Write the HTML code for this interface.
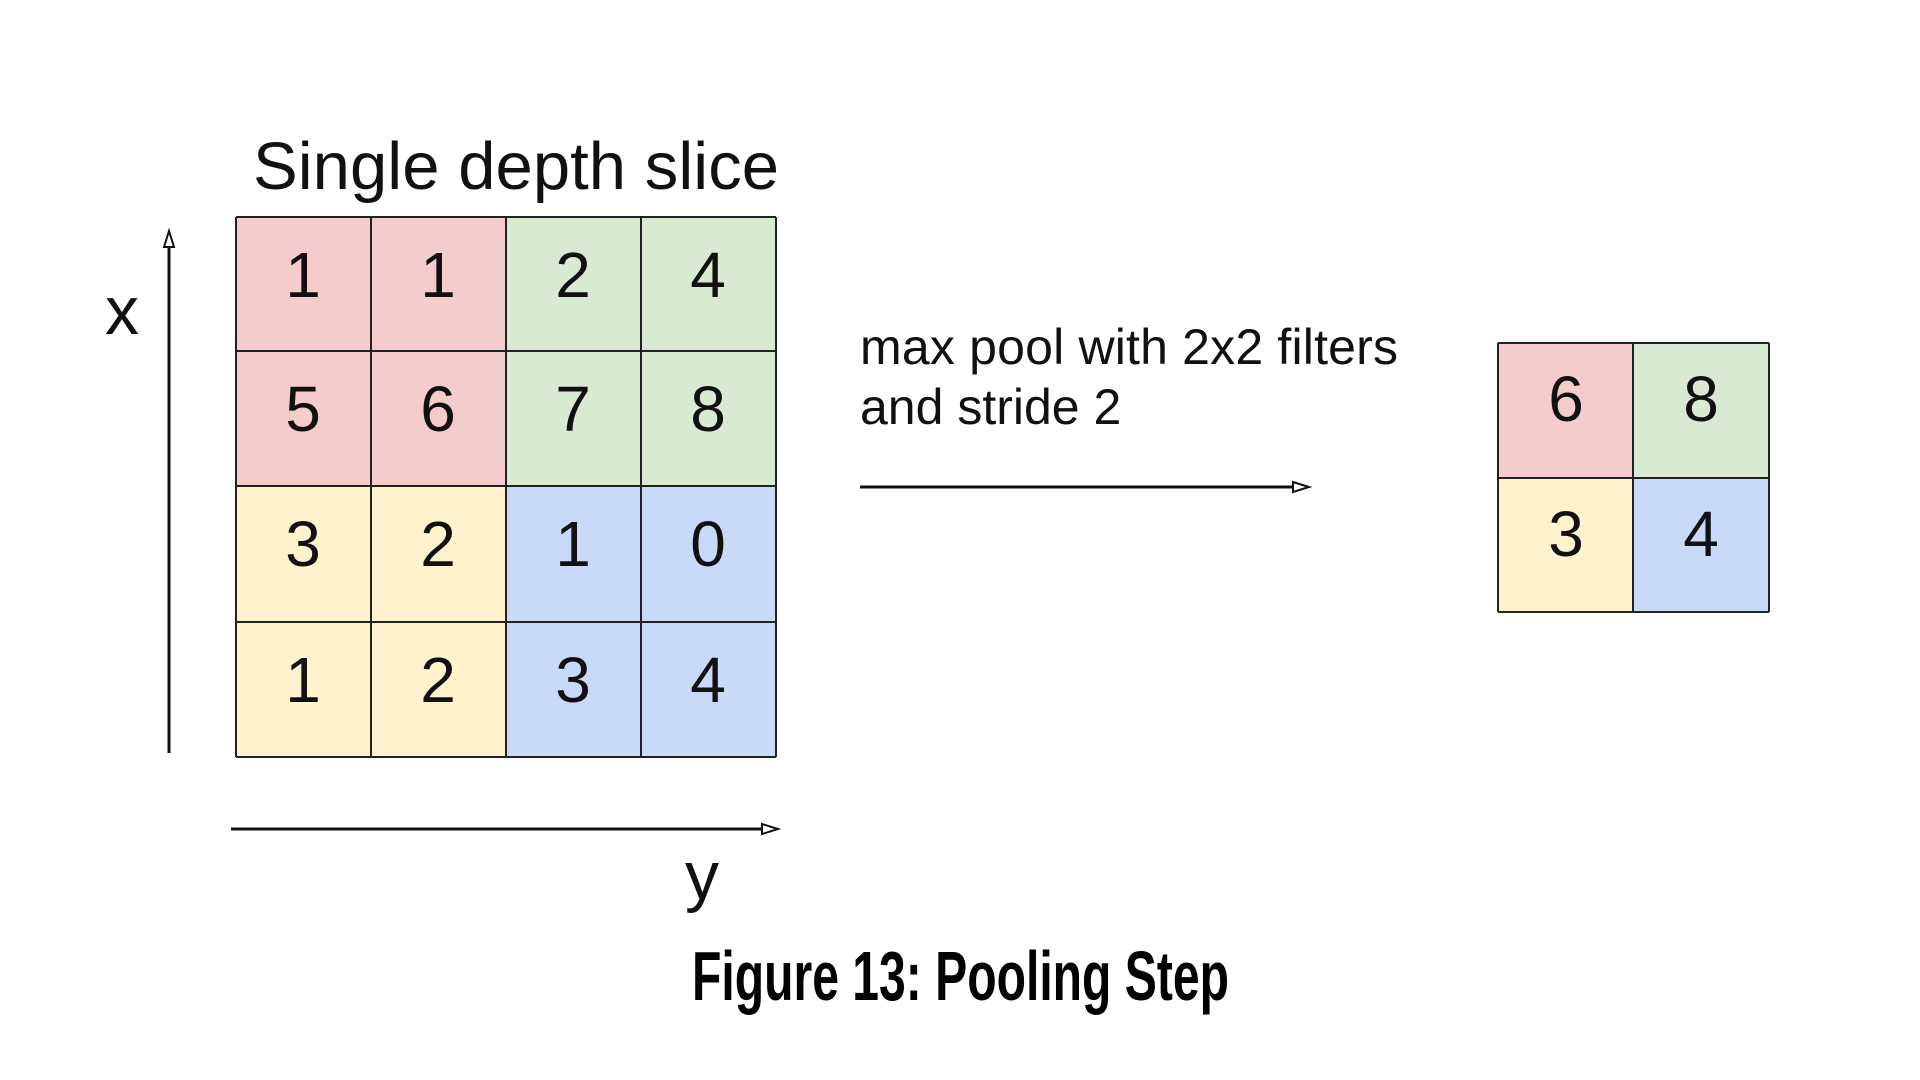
<!DOCTYPE html>
<html><head><meta charset="utf-8"><style>html,body{margin:0;padding:0;background:#fff}svg{display:block}</style></head>
<body>
<svg width="1920" height="1080" viewBox="0 0 1920 1080" xmlns="http://www.w3.org/2000/svg" font-family="Liberation Sans, Arial, sans-serif">
<rect width="1920" height="1080" fill="#fff"/>
<text x="253" y="189" font-size="67" textLength="526" fill="#111">Single depth slice</text>
<g stroke="none">
<rect x="236" y="217" width="270" height="269" fill="#f4cccc"/>
<rect x="506" y="217" width="270" height="269" fill="#d9ead3"/>
<rect x="236" y="486" width="270" height="271" fill="#fff2cc"/>
<rect x="506" y="486" width="270" height="271" fill="#c9daf8"/>
</g>
<g stroke="#222" stroke-width="2" fill="none">
<line x1="236" y1="217" x2="776" y2="217"/><line x1="236" y1="351" x2="776" y2="351"/>
<line x1="236" y1="486" x2="776" y2="486"/><line x1="236" y1="622" x2="776" y2="622"/>
<line x1="236" y1="757" x2="776" y2="757"/>
<line x1="236" y1="217" x2="236" y2="757"/><line x1="371" y1="217" x2="371" y2="757"/>
<line x1="506" y1="217" x2="506" y2="757"/><line x1="641" y1="217" x2="641" y2="757"/>
<line x1="776" y1="217" x2="776" y2="757"/>
</g>
<g font-size="64" text-anchor="middle" fill="#111">
<text x="303" y="297">1</text><text x="438" y="297">1</text><text x="573" y="297">2</text><text x="708" y="297">4</text>
<text x="303" y="431">5</text><text x="438" y="431">6</text><text x="573" y="431">7</text><text x="708" y="431">8</text>
<text x="303" y="566">3</text><text x="438" y="566">2</text><text x="573" y="566">1</text><text x="708" y="566">0</text>
<text x="303" y="702">1</text><text x="438" y="702">2</text><text x="573" y="702">3</text><text x="708" y="702">4</text>
</g>
<g stroke="#111" stroke-width="3" fill="none">
<line x1="169" y1="244" x2="169" y2="753"/>
<polygon points="169,231 164,247 174,247" stroke-width="2" fill="#fff"/>
<line x1="231" y1="829" x2="762" y2="829"/>
<polygon points="778,829 762,824 762,834" stroke-width="2" fill="#fff"/>
<line x1="860" y1="487" x2="1293" y2="487"/>
<polygon points="1309,487 1293,482 1293,492" stroke-width="2" fill="#fff"/>
</g>
<text x="122" y="334" font-size="68" text-anchor="middle" fill="#111">x</text>
<text x="702" y="899" font-size="68" text-anchor="middle" fill="#111">y</text>
<text x="860" y="364" font-size="50" textLength="538" fill="#111">max pool with 2x2 filters</text>
<text x="860" y="424" font-size="50" fill="#111">and stride 2</text>
<rect x="1498" y="343" width="135" height="135" fill="#f4cccc"/>
<rect x="1633" y="343" width="136" height="135" fill="#d9ead3"/>
<rect x="1498" y="478" width="135" height="134" fill="#fff2cc"/>
<rect x="1633" y="478" width="136" height="134" fill="#c9daf8"/>
<g stroke="#222" stroke-width="2">
<line x1="1498" y1="343" x2="1769" y2="343"/><line x1="1498" y1="478" x2="1769" y2="478"/><line x1="1498" y1="612" x2="1769" y2="612"/>
<line x1="1498" y1="343" x2="1498" y2="612"/><line x1="1633" y1="343" x2="1633" y2="612"/><line x1="1769" y1="343" x2="1769" y2="612"/>
</g>
<g font-size="64" text-anchor="middle" fill="#111">
<text x="1566" y="421">6</text><text x="1701" y="421">8</text>
<text x="1566" y="556">3</text><text x="1701" y="556">4</text>
</g>
<text x="692" y="1000" font-size="70" font-weight="bold" font-family="Liberation Sans Narrow, Liberation Sans, sans-serif" textLength="537" lengthAdjust="spacingAndGlyphs" fill="#000">Figure 13: Pooling Step</text>
</svg>
</body></html>
